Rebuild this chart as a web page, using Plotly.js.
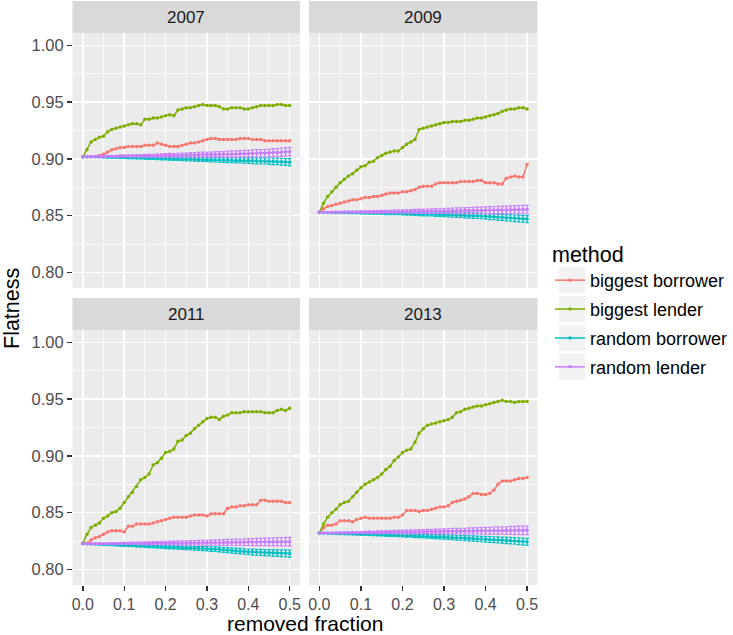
<!DOCTYPE html>
<html>
<head>
<meta charset="utf-8">
<script src="https://cdn.plot.ly/plotly-3.0.1.min.js"></script>
<style>html,body{margin:0;padding:0;background:#fff;}#chart{width:733px;height:635px;}</style>
</head>
<body>
<div id="chart"></div>
<script>
const fraction = [0.00,0.01,0.02,0.03,0.04,0.05,0.06,0.07,0.08,0.09,
  0.10,0.11,0.12,0.13,0.14,0.15,0.16,0.17,0.18,0.19,
  0.20,0.21,0.22,0.23,0.24,0.25,0.26,0.27,0.28,0.29,
  0.30,0.31,0.32,0.33,0.34,0.35,0.36,0.37,0.38,0.39,
  0.40,0.41,0.42,0.43,0.44,0.45,0.46,0.47,0.48,0.49,0.50];

const years = ["2007","2009","2011","2013"];
const methods = ["biggest borrower","biggest lender","random borrower","random lender"];
const methodColors = ["#F8766D","#7CAE00","#00BFC4","#C77CFF"];
const xTickLabels = ["0.0","0.1","0.2","0.3","0.4","0.5"];
const yTickLabels = ["0.80","0.85","0.90","0.95","1.00"];

// 2007
const bb2007 = [.902,.902,.902,.902,.903,.904,.906,.908,.909,.910,
  .910,.911,.911,.911,.911,.912,.912,.912,.914,.913,
  .912,.911,.911,.911,.912,.913,.914,.914,.915,.916,
  .917,.918,.918,.917,.917,.917,.917,.917,.918,.918,
  .918,.917,.917,.917,.916,.916,.916,.916,.916,.916,.916];
const bl2007 = [.902,.908,.915,.917,.919,.920,.924,.926,.927,.928,
  .929,.930,.931,.931,.930,.935,.935,.936,.936,.937,
  .938,.939,.938,.943,.944,.945,.945,.946,.947,.948,
  .947,.947,.947,.946,.944,.944,.945,.945,.945,.944,
  .944,.945,.946,.947,.947,.947,.947,.948,.948,.947,.947];
const rb2007 = [0.9020,0.9019,0.9019,0.9018,0.9016,0.9016,0.9015,0.9014,0.9014,0.9012,
  0.9012,0.9011,0.9010,0.9010,0.9008,0.9008,0.9007,0.9006,0.9006,0.9004,
  0.9004,0.9003,0.9001,0.9002,0.9000,0.8999,0.8999,0.8997,0.8997,0.8995,
  0.8995,0.8994,0.8993,0.8993,0.8991,0.8990,0.8990,0.8988,0.8988,0.8986,
  0.8985,0.8985,0.8983,0.8982,0.8982,0.8980,0.8979,0.8978,0.8976,0.8973,0.8971];
const rl2007 = [0.9020,0.9021,0.9020,0.9022,0.9022,0.9021,0.9023,0.9024,0.9023,0.9025,
  0.9025,0.9026,0.9025,0.9027,0.9027,0.9028,0.9029,0.9028,0.9030,0.9030,
  0.9031,0.9032,0.9031,0.9033,0.9034,0.9034,0.9036,0.9035,0.9037,0.9038,
  0.9038,0.9037,0.9039,0.9041,0.9040,0.9042,0.9043,0.9042,0.9045,0.9046,
  0.9045,0.9048,0.9049,0.9051,0.9050,0.9053,0.9056,0.9055,0.9059,0.9062,0.9064];

// 2009
const bb2009 = [.853,.856,.858,.859,.860,.861,.862,.863,.864,.864,
  .865,.866,.866,.867,.867,.868,.869,.870,.870,.870,
  .871,.871,.872,.873,.875,.876,.876,.876,.878,.879,
  .879,.879,.879,.879,.880,.880,.880,.880,.881,.881,
  .879,.879,.879,.878,.878,.883,.884,.885,.884,.884,.895];
const bl2009 = [.853,.861,.867,.871,.875,.879,.882,.885,.887,.890,
  .893,.894,.897,.898,.901,.903,.905,.906,.907,.907,
  .910,.913,.915,.917,.926,.927,.928,.929,.930,.931,
  .932,.932,.933,.933,.933,.934,.934,.935,.936,.936,
  .937,.938,.939,.940,.942,.943,.944,.944,.945,.945,.944];
const rb2009 = [0.8530,0.8529,0.8529,0.8528,0.8528,0.8527,0.8527,0.8526,0.8526,0.8525,
  0.8525,0.8524,0.8524,0.8523,0.8523,0.8522,0.8521,0.8521,0.8520,0.8520,
  0.8519,0.8518,0.8518,0.8517,0.8516,0.8515,0.8515,0.8514,0.8512,0.8512,
  0.8510,0.8509,0.8508,0.8506,0.8505,0.8503,0.8502,0.8500,0.8499,0.8497,
  0.8494,0.8492,0.8490,0.8487,0.8485,0.8482,0.8480,0.8477,0.8475,0.8472,0.8470];
const rl2009 = [0.8530,0.8531,0.8530,0.8531,0.8532,0.8531,0.8532,0.8533,0.8532,0.8533,
  0.8534,0.8533,0.8534,0.8535,0.8534,0.8535,0.8536,0.8535,0.8536,0.8537,
  0.8537,0.8536,0.8538,0.8538,0.8539,0.8538,0.8540,0.8540,0.8541,0.8540,
  0.8542,0.8542,0.8543,0.8544,0.8543,0.8545,0.8545,0.8546,0.8547,0.8546,
  0.8548,0.8549,0.8549,0.8550,0.8551,0.8551,0.8552,0.8553,0.8553,0.8554,0.8555];

// 2011
const bb2011 = [.823,.823,.826,.828,.829,.831,.833,.834,.834,.834,
  .833,.838,.838,.840,.840,.840,.840,.841,.842,.843,
  .844,.845,.846,.846,.846,.846,.847,.848,.848,.848,
  .847,.849,.849,.849,.849,.854,.855,.855,.856,.856,
  .857,.857,.857,.861,.861,.860,.860,.860,.860,.859,.859];
const bl2011 = [.823,.831,.837,.839,.841,.845,.847,.850,.851,.854,
  .859,.864,.868,.873,.879,.881,.884,.892,.894,.898,
  .903,.904,.906,.913,.914,.918,.920,.924,.927,.930,
  .933,.934,.934,.932,.935,.936,.938,.938,.938,.939,
  .939,.939,.939,.939,.938,.938,.938,.940,.941,.940,.942];
const rb2011 = [0.8227,0.8226,0.8224,0.8223,0.8222,0.8220,0.8219,0.8217,0.8216,0.8214,
  0.8212,0.8211,0.8210,0.8208,0.8207,0.8205,0.8203,0.8202,0.8200,0.8199,
  0.8197,0.8196,0.8194,0.8193,0.8192,0.8190,0.8189,0.8187,0.8186,0.8184,
  0.8183,0.8180,0.8178,0.8175,0.8172,0.8170,0.8167,0.8164,0.8161,0.8158,
  0.8155,0.8153,0.8151,0.8150,0.8148,0.8147,0.8146,0.8144,0.8143,0.8142,0.8140];
const rl2011 = [0.8227,0.8227,0.8228,0.8227,0.8228,0.8228,0.8229,0.8228,0.8229,0.8229,
  0.8230,0.8229,0.8230,0.8231,0.8230,0.8231,0.8231,0.8232,0.8232,0.8231,
  0.8233,0.8232,0.8233,0.8234,0.8233,0.8234,0.8235,0.8234,0.8235,0.8236,
  0.8235,0.8236,0.8237,0.8236,0.8237,0.8238,0.8238,0.8239,0.8240,0.8239,
  0.8241,0.8240,0.8242,0.8242,0.8243,0.8242,0.8244,0.8243,0.8244,0.8245,0.8244];

// 2013
const bb2013 = [.832,.837,.839,.839,.840,.843,.843,.843,.842,.844,
  .845,.846,.845,.845,.845,.845,.845,.845,.846,.846,
  .848,.852,.852,.852,.851,.852,.852,.853,.854,.855,
  .855,.856,.859,.860,.861,.862,.864,.867,.867,.866,
  .866,.867,.870,.875,.878,.878,.878,.879,.880,.880,.881];
const bl2013 = [.832,.840,.846,.850,.853,.857,.859,.860,.864,.868,
  .872,.875,.877,.879,.881,.884,.888,.891,.896,.899,
  .903,.905,.906,.912,.920,.924,.927,.928,.929,.930,
  .931,.932,.934,.938,.939,.941,.942,.943,.944,.944,
  .945,.946,.947,.948,.949,.948,.948,.947,.948,.948,.948];
const rb2013 = [0.8320,0.8319,0.8318,0.8317,0.8316,0.8315,0.8314,0.8313,0.8312,0.8311,
  0.8310,0.8309,0.8308,0.8307,0.8306,0.8305,0.8304,0.8303,0.8302,0.8301,
  0.8300,0.8299,0.8298,0.8296,0.8295,0.8294,0.8292,0.8291,0.8289,0.8288,
  0.8286,0.8284,0.8282,0.8280,0.8278,0.8276,0.8274,0.8272,0.8270,0.8268,
  0.8266,0.8264,0.8262,0.8260,0.8258,0.8256,0.8254,0.8251,0.8249,0.8246,0.8243];
const rl2013 = [0.8320,0.8321,0.8322,0.8321,0.8323,0.8323,0.8324,0.8324,0.8325,0.8324,
  0.8326,0.8326,0.8327,0.8326,0.8328,0.8328,0.8329,0.8329,0.8330,0.8330,
  0.8331,0.8330,0.8332,0.8332,0.8333,0.8333,0.8334,0.8334,0.8335,0.8335,
  0.8336,0.8335,0.8337,0.8337,0.8338,0.8337,0.8339,0.8339,0.8340,0.8340,
  0.8341,0.8340,0.8342,0.8341,0.8343,0.8342,0.8344,0.8343,0.8345,0.8344,0.8345];

// error half-widths for the random methods
const errRandomBorrower = [0,0.0001,0.0002,0.0003,0.0003,0.0004,0.0005,0.0005,0.0006,0.0006,
  0.0007,0.0008,0.0008,0.0009,0.0009,0.0010,0.0011,0.0011,0.0012,0.0012,
  0.0013,0.0014,0.0014,0.0015,0.0015,0.0016,0.0017,0.0017,0.0018,0.0018,
  0.0019,0.0020,0.0020,0.0021,0.0021,0.0022,0.0023,0.0023,0.0024,0.0024,
  0.0025,0.0026,0.0026,0.0027,0.0027,0.0028,0.0029,0.0029,0.0030,0.0030,0.0031];
const errRandomLender = [0,0.0002,0.0003,0.0004,0.0004,0.0005,0.0006,0.0006,0.0007,0.0008,
  0.0008,0.0009,0.0010,0.0010,0.0011,0.0012,0.0012,0.0013,0.0014,0.0014,
  0.0015,0.0016,0.0016,0.0017,0.0018,0.0018,0.0019,0.0020,0.0021,0.0021,
  0.0022,0.0023,0.0024,0.0024,0.0025,0.0026,0.0027,0.0028,0.0028,0.0029,
  0.0030,0.0031,0.0032,0.0032,0.0033,0.0034,0.0035,0.0036,0.0036,0.0037,0.0038];

const seriesByYear = {
  "2007": [bb2007, bl2007, rb2007, rl2007],
  "2009": [bb2009, bl2009, rb2009, rl2009],
  "2011": [bb2011, bl2011, rb2011, rl2011],
  "2013": [bb2013, bl2013, rb2013, rl2013]
};
const errByMethod = [null, null, errRandomBorrower, errRandomLender];

const traces = [];
years.forEach((yr, p) => {
  const ax = p === 0 ? "" : String(p + 1);
  methods.forEach((m, k) => {
    const t = {
      type: "scatter", mode: "lines+markers",
      x: fraction, y: seriesByYear[yr][k],
      xaxis: "x" + ax, yaxis: "y" + ax,
      name: m, legendgroup: m, showlegend: p === 0,
      line: {color: methodColors[k], width: 1.5},
      marker: {color: methodColors[k], size: 3.5},
      hoverinfo: "skip"
    };
    if (errByMethod[k]) {
      t.error_y = {type: "data", array: errByMethod[k], visible: true,
        color: methodColors[k], thickness: 1.2, width: 1.8};
    }
    traces.push(t);
  });
});

const W = 733, H = 635;
const colL = [72.5/W, 300/W], colR = [309/W, 537.5/W];
const rowT = [1 - 288/H, 1 - 33/H], rowB = [1 - 585/H, 1 - 330/H];
const yRange = [0.7863, 1.0109];
const xRange = [-0.025, 0.525];
const FONT = "Liberation Sans, Arial, sans-serif";
const tickFont = {family: FONT, size: 16, color: "#4D4D4D"};

function xAxis(domain, anchor, show) {
  return {
    domain: domain, anchor: anchor, range: xRange, fixedrange: true,
    tickmode: "array", tickvals: [0,0.1,0.2,0.3,0.4,0.5], ticktext: xTickLabels,
    showticklabels: show, ticks: show ? "outside" : "", ticklen: 4.5, tickwidth: 1.4, tickcolor: "#333333",
    tickfont: tickFont, showgrid: true, gridcolor: "#FFFFFF", gridwidth: 1.6,
    minor: {tickvals: [0.05,0.15,0.25,0.35,0.45], showgrid: true, gridcolor: "#FFFFFF", gridwidth: 0.8, ticks: ""},
    zeroline: false, showline: false, automargin: false
  };
}
function yAxis(domain, anchor, show) {
  return {
    domain: domain, anchor: anchor, range: yRange, fixedrange: true,
    tickmode: "array", tickvals: [0.80,0.85,0.90,0.95,1.00], ticktext: yTickLabels,
    showticklabels: show, ticks: show ? "outside" : "", ticklen: 4.5, tickwidth: 1.4, tickcolor: "#333333",
    tickfont: {family: FONT, size: 16.5, color: "#4D4D4D"}, showgrid: true, gridcolor: "#FFFFFF", gridwidth: 1.6,
    minor: {tickvals: [0.825,0.875,0.925,0.975], showgrid: true, gridcolor: "#FFFFFF", gridwidth: 0.8, ticks: ""},
    zeroline: false, showline: false, automargin: false
  };
}

const stripFont = {family: FONT, size: 17, color: "#1A1A1A"};
const strips = [
  {x: colL, y: [1 - 33/H, 1 - 1/H]}, {x: colR, y: [1 - 33/H, 1 - 1/H]},
  {x: colL, y: [1 - 330/H, 1 - 298/H]}, {x: colR, y: [1 - 330/H, 1 - 298/H]}
];
const shapes = strips.map(s => ({type: "rect", xref: "paper", yref: "paper",
  x0: s.x[0], x1: s.x[1], y0: s.y[0], y1: s.y[1], fillcolor: "#D9D9D9", line: {width: 0}, layer: "below"}));
const annotations = strips.map((s, i) => ({xref: "paper", yref: "paper",
  x: (s.x[0] + s.x[1]) / 2, y: (s.y[0] + s.y[1]) / 2, text: years[i], showarrow: false,
  font: stripFont, xanchor: "center", yanchor: "middle"}));

annotations.push({xref: "paper", yref: "paper", x: 12/W, y: 1 - 309/H, text: "Flatness",
  textangle: -90, showarrow: false, xanchor: "center", yanchor: "middle",
  borderpad: 0, borderwidth: 0,
  font: {family: FONT, size: 21.5, color: "#000000"}});
annotations.push({xref: "paper", yref: "paper", x: 305/W, y: 0.5/H, text: "removed fraction",
  showarrow: false, xanchor: "center", yanchor: "bottom", borderpad: 0, borderwidth: 0,
  font: {family: FONT, size: 21, color: "#000000"}});

// legend key backgrounds
[280, 309, 338, 367].forEach(cy => {
  shapes.push({type: "rect", xref: "paper", yref: "paper",
    x0: 559/W, x1: 585/W, y0: 1 - (cy + 13)/H, y1: 1 - (cy - 13)/H,
    fillcolor: "#F2F2F2", line: {width: 0}, layer: "below"});
});

const layout = {
  width: W, height: H,
  margin: {l: 0, r: 0, t: 0, b: 0},
  paper_bgcolor: "#FFFFFF", plot_bgcolor: "#EBEBEB",
  font: {family: FONT},
  xaxis: xAxis(colL, "y", false), yaxis: yAxis(rowT, "x", true),
  xaxis2: xAxis(colR, "y2", false), yaxis2: yAxis(rowT, "x2", false),
  xaxis3: xAxis(colL, "y3", true), yaxis3: yAxis(rowB, "x3", true),
  xaxis4: xAxis(colR, "y4", true), yaxis4: yAxis(rowB, "x4", false),
  showlegend: true,
  legend: {
    x: 550/W, xanchor: "left", y: 1 - 234/H, yanchor: "top",
    bgcolor: "rgba(0,0,0,0)", borderwidth: 0,
    title: {text: "method", font: {family: FONT, size: 21.5, color: "#000000"}},
    font: {family: FONT, size: 18, color: "#000000"},
    itemwidth: 30, tracegroupgap: 2.5, traceorder: "grouped",
    itemclick: false, itemdoubleclick: false
  },
  shapes: shapes, annotations: annotations,
  hovermode: false
};

Plotly.newPlot("chart", traces, layout, {displayModeBar: false, staticPlot: true});
</script>
</body>
</html>
